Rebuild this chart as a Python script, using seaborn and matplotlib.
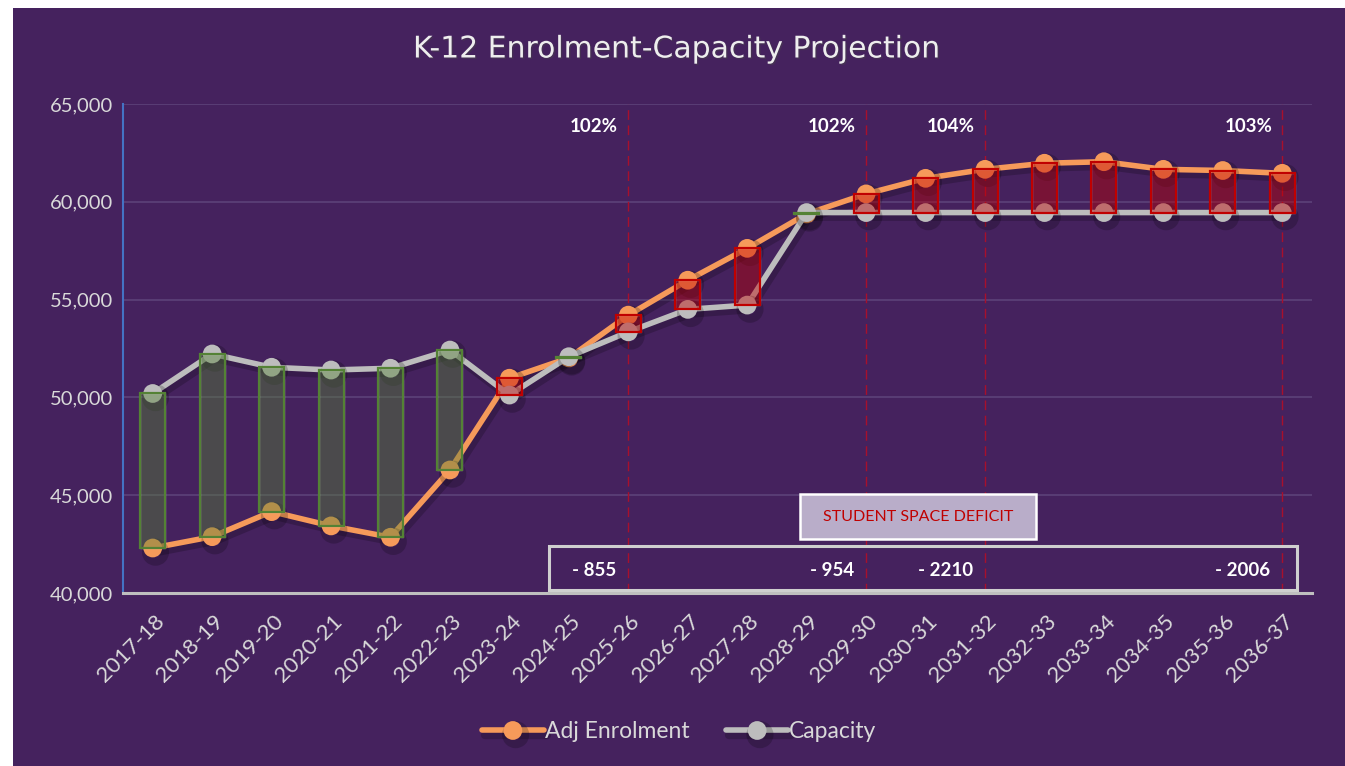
import numpy as np
import pandas as pd
import matplotlib
matplotlib.use('Agg')
import matplotlib.pyplot as plt
import matplotlib.patheffects as pe
from matplotlib.patches import Rectangle
from matplotlib.transforms import ScaledTranslation
import seaborn as sns

years = ['2017-18', '2018-19', '2019-20', '2020-21', '2021-22', '2022-23', '2023-24',
         '2024-25', '2025-26', '2026-27', '2027-28', '2028-29', '2029-30', '2030-31',
         '2031-32', '2032-33', '2033-34', '2034-35', '2035-36', '2036-37']
enrolment = [42300, 42880, 44160, 43430, 42850, 46290, 50980, 52020, 54205, 55990,
             57620, 59380, 60404, 61200, 61660, 61970, 62050, 61660, 61600, 61456]
capacity = [50200, 52220, 51540, 51400, 51490, 52420, 50120, 52080, 53350, 54500,
            54720, 59450, 59450, 59450, 59450, 59450, 59450, 59450, 59450, 59450]

mark_years = ['2025-26', '2029-30', '2031-32', '2036-37']
mark_pct = ['102%', '102%', '104%', '103%']
mark_deficit = ['- 855', '- 954', '- 2210', '- 2006']

purple = '#45225e'
orange = '#f69a5a'
grey = '#bdbdbd'
txt = '#d9d9d9'

sns.set_style('white')
plt.rcParams['font.family'] = ['Lato', 'DejaVu Sans']

df = pd.DataFrame({'year': years, 'x': np.arange(len(years)),
                   'enrol': enrolment, 'cap': capacity})

fig = plt.figure(figsize=(13.45, 7.66), dpi=100, facecolor='white')
fig.patches.append(Rectangle((13 / 1345, 0), 1, 1 - 8 / 766, transform=fig.transFigure,
                             facecolor=purple, edgecolor='none', zorder=-10))
ax = fig.add_axes([123 / 1345, 1 - 593 / 766, (1312 - 123) / 1345, (593 - 104) / 766])
ax.set_facecolor(purple)

shadow = [pe.SimpleLineShadow(offset=(2, -3), shadow_color='black', alpha=0.2, linewidth=6),
          pe.Normal()]
sns.lineplot(data=df, x='x', y='enrol', ax=ax, color=orange, linewidth=4, marker='o',
             markersize=13.5, markeredgewidth=0, markeredgecolor=orange,
             label='Adj Enrolment', path_effects=shadow, zorder=3)
sns.lineplot(data=df, x='x', y='cap', ax=ax, color=grey, linewidth=4, marker='o',
             markersize=13.5, markeredgewidth=0, markeredgecolor=grey,
             label='Capacity', path_effects=shadow, zorder=3)

# surplus / deficit boxes
for xi, e, c in zip(df['x'], df['enrol'], df['cap']):
    col = '#548235' if c >= e else '#c00000'
    lo, hi = min(e, c), max(e, c)
    ax.bar(xi, hi - lo, bottom=lo, width=0.42, color=col, alpha=0.42, zorder=4)
    ax.bar(xi, hi - lo, bottom=lo, width=0.42, facecolor='none', edgecolor=col,
           linewidth=1.6, zorder=5)

for yr, pct, dfc in zip(mark_years, mark_pct, mark_deficit):
    xi = years.index(yr)
    ax.axvline(xi, color='#a8102c', linewidth=1, linestyle=(0, (7, 4)), zorder=2)
    ax.text(xi - 0.17, 63870, pct, ha='right', va='center', color='white',
            fontsize=13.5, fontweight='bold', zorder=6)
    ax.text(xi - 0.2, 41130, dfc, ha='right', va='center', color='white',
            fontsize=13.5, fontweight='bold', zorder=6)

# deficit frame and caption
ax.add_patch(Rectangle(((549 - 123) / 1189, (593 - 590) / 489), (1297 - 549) / 1189,
                       (590 - 546) / 489, transform=ax.transAxes, facecolor='none',
                       edgecolor='#cfcfcf', linewidth=2.2, zorder=6, clip_on=False))
ax.add_patch(Rectangle(((800 - 123) / 1189, (593 - 539) / 489), (1036 - 800) / 1189,
                       (539 - 494) / 489, transform=ax.transAxes, facecolor='#b9adc9',
                       edgecolor='white', linewidth=1.8, zorder=6, clip_on=False))
ax.text((918 - 123) / 1189, (593 - 517) / 489, 'STUDENT SPACE DEFICIT', transform=ax.transAxes,
        ha='center', va='center', color='#c00000', fontsize=11.5, zorder=7)

ax.set_xlim(-0.5, 19.5)
ax.set_ylim(40000, 65000)
ax.set_yticks(np.arange(40000, 65001, 5000))
ax.yaxis.set_major_formatter(matplotlib.ticker.StrMethodFormatter('{x:,.0f}'))
ax.set_xticks(df['x'])
ax.set_xticklabels(years, rotation=45, ha='right', va='center', rotation_mode='anchor')
ax.tick_params(axis='x', length=0, pad=18, labelsize=16, labelcolor=txt)
ax.tick_params(axis='y', direction='in', length=6, width=1.5, color='#4472c4',
               pad=7, labelsize=14.5, labelcolor=txt)
for lbl in ax.get_xticklabels():
    lbl.set_transform(lbl.get_transform() + ScaledTranslation(6 / 72, 0, fig.dpi_scale_trans))
ax.grid(axis='y', color='#5d4279', linewidth=1.2)
ax.set_axisbelow(True)
ax.set_xlabel('')
ax.set_ylabel('')
for s in ['top', 'right']:
    ax.spines[s].set_visible(False)
ax.spines['left'].set_color('#4472c4')
ax.spines['left'].set_linewidth(1.5)
ax.spines['bottom'].set_color('#bfbfbf')
ax.spines['bottom'].set_linewidth(2.2)

handles, labels = ax.get_legend_handles_labels()
ax.get_legend().remove()
fig.legend(handles, labels, loc='center', bbox_to_anchor=(0.505, 1 - 732 / 766),
           ncol=2, frameon=False, fontsize=16.5, labelcolor=txt, handlelength=2.7,
           handletextpad=0.05, columnspacing=1.6)

fig.text(0.503, 1 - 49 / 766, 'K-12 Enrolment-Capacity Projection', ha='center', va='center',
         color='#eeeeee', fontsize=21.5, family=['DejaVu Sans'],
         path_effects=[pe.withSimplePatchShadow(offset=(1, -1), alpha=0.4)])

fig.savefig('out.png', dpi=100, facecolor=fig.get_facecolor())
